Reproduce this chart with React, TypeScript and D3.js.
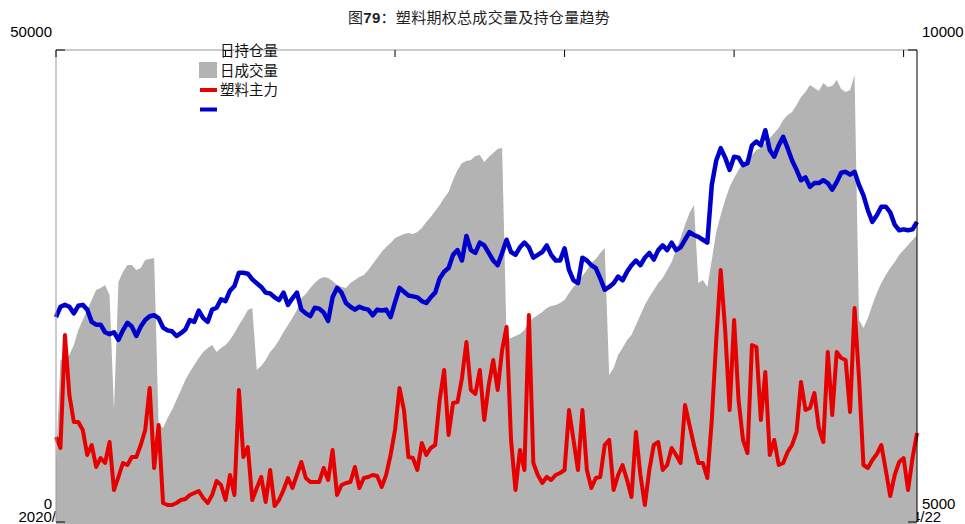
import React, { useRef, useEffect } from "react";
import * as d3 from "d3";

const titleParts = [
  { text: "图", bold: false },
  { text: "79", bold: true },
  { text: "：塑料期权总成交量及持仓量趋势", bold: false },
];
const legendLabels = ["日持仓量", "日成交量", "塑料主力"];

// trading-day index of each date tick and its label
const tickIdx = [0, 38, 76, 114, 152, 190];
const tickLabels = ["2020/07/06", "2020/08/26", "2020/10/27", "2020/12/28", "2021/03/01", "2021/04/22"];
const leftTicks = [0, 50000];
const rightTicks = [5000, 10000];

// 日持仓量 (left axis)
const openInterest = [
  6360, 17160, 17370, 17690, 18750, 20340, 21400, 22460, 23520, 24580,
  24790, 25110, 24050, 11860, 25420, 26480, 27220, 27220, 26690, 26900,
  27750, 27860, 27970, 10280, 9960, 11020, 11860, 12920, 13980, 15040,
  15890, 16630, 17370, 18010, 18430, 18750, 18010, 18430, 18750, 19280,
  20020, 20870, 21610, 22460, 22670, 16100, 16530, 17160, 18010, 18540,
  19280, 20130, 20870, 21610, 22460, 23730, 24150, 24790, 25320, 25740,
  25950, 25850, 25530, 25110, 24890, 24790, 25320, 25630, 25950, 26160,
  26690, 27330, 27970, 28600, 29130, 29550, 30080, 30300, 30510, 30610,
  30510, 30720, 31140, 31780, 32310, 32940, 33580, 34320, 34960, 36230,
  37290, 38030, 38240, 38350, 38770, 38880, 38130, 38660, 39090, 39510,
  39620, 19280, 19490, 19700, 19910, 20340, 21190, 21610, 21930, 22250,
  22670, 22880, 22990, 23200, 23520, 24260, 24890, 25420, 26060, 26690,
  27440, 27860, 28500, 29030, 15570, 16310, 17690, 18430, 19280, 19810,
  20870, 21930, 22990, 23830, 24580, 25320, 25850, 26690, 27540, 28810,
  30080, 31460, 32730, 33580, 25320, 25630, 24890, 27750, 30720, 32520,
  34110, 35490, 36440, 37290, 38030, 38560, 38880, 39410, 39620, 40150,
  40680, 41210, 41740, 42580, 43110, 43430, 44170, 45020, 45550, 46290,
  45970, 45660, 46500, 46080, 46190, 46820, 45870, 45550, 45760, 47350,
  21400, 20550, 21610, 22990, 24260, 25320, 26160, 26910, 27540, 28280,
  28810, 29340, 29870, 30400,
];

// 日成交量 (left axis)
const volume = [
  9000, 7840, 19810, 13450, 10590, 10590, 9750, 7100, 8160, 5830,
  6780, 6250, 8470, 3390, 4770, 6250, 6040, 6890, 6890, 8160,
  9750, 14190, 5720, 10280, 2010, 1800, 1800, 2010, 2330, 2440,
  2860, 3070, 3280, 2540, 2010, 2860, 4340, 3920, 2330, 4980,
  2860, 13980, 6890, 7940, 2330, 3600, 4770, 2120, 5510, 1690,
  2330, 3390, 4660, 3600, 4980, 6360, 4660, 4240, 4240, 4240,
  5720, 4450, 7630, 2860, 3920, 4130, 4240, 5830, 3600, 4660,
  4770, 4980, 4870, 3710, 4980, 7100, 9750, 14190, 11860, 6890,
  6780, 5510, 8370, 7100, 7840, 8160, 12920, 16100, 9220, 12610,
  12710, 15250, 19070, 13980, 13560, 16100, 10800, 14510, 17160, 13980,
  18220, 20660, 8690, 3390, 7630, 5510, 21930, 6250, 4980, 4130,
  4770, 4450, 4980, 5190, 5510, 11860, 8690, 5510, 11860, 5510,
  3600, 4660, 4770, 8160, 8690, 3390, 4980, 6040, 4450, 2650,
  9530, 4980, 1800, 5510, 8160, 8470, 5510, 6040, 7840, 7100,
  6250, 12390, 10280, 8160, 6250, 6250, 4660, 10800, 19280, 26690,
  20340, 11860, 21400, 12920, 8690, 7310, 18750, 18540, 10800, 15890,
  7100, 8690, 6040, 6250, 7420, 8160, 9530, 14830, 11860, 12080,
  13660, 9960, 8470, 18010, 11330, 18010, 17370, 17160, 11650, 22670,
  15250, 6040, 5720, 6570, 7200, 8160, 5510, 2750, 4980, 6360,
  6780, 3390, 6780, 9430,
];

// 塑料主力 close (right axis)
const price = [
  7170, 7280, 7300, 7280, 7210, 7290, 7300, 7250, 7120, 7090,
  7090, 7010, 6990, 7010, 6930, 7030, 7110, 7070, 6970, 7070,
  7140, 7180, 7190, 7160, 7060, 7030, 7020, 6970, 7000, 7040,
  7140, 7120, 7240, 7160, 7120, 7250, 7270, 7360, 7340, 7450,
  7500, 7640, 7640, 7630, 7570, 7530, 7490, 7430, 7420, 7380,
  7350, 7430, 7300, 7370, 7430, 7250, 7210, 7180, 7270, 7260,
  7220, 7130, 7380, 7480, 7430, 7320, 7280, 7250, 7280, 7260,
  7250, 7190, 7250, 7240, 7250, 7170, 7330, 7480, 7440, 7400,
  7390, 7380, 7340, 7320, 7380, 7430, 7580, 7650, 7690, 7830,
  7880, 7770, 8030, 7880, 7850, 7960, 7930, 7850, 7770, 7720,
  7850, 7990, 7860, 7830, 7910, 7960, 7910, 7800, 7830, 7860,
  7930, 7830, 7770, 7770, 7900, 7670, 7560, 7530, 7800, 7770,
  7720, 7690, 7580, 7460, 7490, 7530, 7600, 7560, 7650, 7720,
  7770, 7720, 7800, 7850, 7780, 7880, 7930, 7880, 7960, 7880,
  7910, 7990, 8070, 8040, 8020, 7990, 7960, 8570, 8830, 8960,
  8860, 8730, 8870, 8860, 8780, 8800, 8990, 9030, 8990, 9150,
  8940, 8870, 8990, 9080, 8960, 8830, 8730, 8620, 8650, 8550,
  8590, 8590, 8620, 8590, 8520, 8600, 8700, 8710, 8680, 8710,
  8570, 8460, 8300, 8180, 8250, 8340, 8340, 8280, 8150, 8090,
  8100, 8090, 8100, 8180,
];

const W = 965;
const H = 524;
const tickFont = "'Liberation Sans', Arial, sans-serif";
const cjkFont = "'Noto Sans CJK SC', 'Noto Sans', sans-serif";

export default function App() {
  const svgRef = useRef<SVGSVGElement>(null);

  useEffect(() => {
    if (!svgRef.current) return;
    const svg = d3.select(svgRef.current);
    svg.selectAll("*").remove();

    const left = 56, right = 917, top = 50, bottom = 522;

    const x = d3.scaleLinear().domain([0, price.length - 1]).range([left, right]);
    const yL = d3.scaleLinear().domain([0, 50000]).range([bottom, top]);
    const yR = d3.scaleLinear().domain([5000, 10000]).range([bottom, top]);

    // date labels sit below the plot; the area is painted over them
    svg
      .selectAll(".xlab")
      .data(tickIdx)
      .join("text")
      .attr("class", "xlab")
      .attr("x", (d) => x(d))
      .attr("y", 517)
      .attr("dy", "0.35em")
      .attr("text-anchor", "middle")
      .style("font-family", tickFont)
      .style("font-size", "15px")
      .text((d, i) => tickLabels[i]);

    // left tick labels (drawn a bit above their ticks)
    svg
      .selectAll(".ylab")
      .data(leftTicks)
      .join("text")
      .attr("class", "ylab")
      .attr("x", 52)
      .attr("y", (d) => yL(d) - 18)
      .attr("dy", "0.35em")
      .attr("text-anchor", "end")
      .style("font-family", tickFont)
      .style("font-size", "15px")
      .text((d) => String(d));

    svg
      .selectAll(".rlab")
      .data(rightTicks)
      .join("text")
      .attr("class", "rlab")
      .attr("x", 922)
      .attr("y", (d) => yR(d) - 18)
      .attr("dy", "0.35em")
      .attr("text-anchor", "start")
      .style("font-family", tickFont)
      .style("font-size", "15px")
      .text((d) => String(d));

    // open interest area
    const area = d3
      .area<number>()
      .x((d, i) => x(i))
      .y0(H + 2)
      .y1((d) => yL(d));
    svg.append("path").datum(openInterest).attr("d", area).attr("fill", "#b3b3b3");

    // volume line
    const volLine = d3
      .line<number>()
      .x((d, i) => x(i))
      .y((d) => yL(d));
    svg
      .append("path")
      .datum(volume)
      .attr("d", volLine)
      .attr("fill", "none")
      .attr("stroke", "#e60000")
      .attr("stroke-width", 4)
      .attr("stroke-linejoin", "round");

    // price line
    const priceLine = d3
      .line<number>()
      .x((d, i) => x(i))
      .y((d) => yR(d));
    svg
      .append("path")
      .datum(price)
      .attr("d", priceLine)
      .attr("fill", "none")
      .attr("stroke", "#0000cd")
      .attr("stroke-width", 4.5)
      .attr("stroke-linejoin", "round");

    // frame: gray top / left, black right
    svg.append("line").attr("x1", left).attr("x2", right).attr("y1", top).attr("y2", top)
      .attr("stroke", "#999").attr("stroke-width", 1);
    svg.append("line").attr("x1", left).attr("x2", left).attr("y1", top).attr("y2", bottom)
      .attr("stroke", "#999").attr("stroke-width", 1);
    svg.append("line").attr("x1", right).attr("x2", right).attr("y1", top).attr("y2", bottom)
      .attr("stroke", "#000").attr("stroke-width", 1);

    // top date ticks
    svg
      .selectAll(".xtick")
      .data(tickIdx)
      .join("line")
      .attr("class", "xtick")
      .attr("x1", (d) => x(d))
      .attr("x2", (d) => x(d))
      .attr("y1", top)
      .attr("y2", top + 7)
      .attr("stroke", "#000");

    // y ticks pointing inwards
    svg
      .selectAll(".ltick")
      .data(leftTicks)
      .join("line")
      .attr("class", "ltick")
      .attr("x1", left)
      .attr("x2", left + 9)
      .attr("y1", (d) => yL(d))
      .attr("y2", (d) => yL(d))
      .attr("stroke", "#000");
    svg
      .selectAll(".rtick")
      .data(rightTicks)
      .join("line")
      .attr("class", "rtick")
      .attr("x1", right - 9)
      .attr("x2", right)
      .attr("y1", (d) => yR(d))
      .attr("y2", (d) => yR(d))
      .attr("stroke", "#000");

    // legend (labels sit one row above their swatches, as in the source)
    const lg = svg.append("g");
    lg.append("rect").attr("x", 199).attr("y", 62).attr("width", 18).attr("height", 16).attr("fill", "#b3b3b3");
    lg.append("line").attr("x1", 200).attr("x2", 217).attr("y1", 90).attr("y2", 90)
      .attr("stroke", "#e60000").attr("stroke-width", 4);
    lg.append("line").attr("x1", 200).attr("x2", 217).attr("y1", 109.5).attr("y2", 109.5)
      .attr("stroke", "#0000cd").attr("stroke-width", 4);
    lg.selectAll("text")
      .data(legendLabels)
      .join("text")
      .attr("x", 220)
      .attr("y", (d, i) => 51 + i * 19.5)
      .attr("dy", "0.35em")
      .style("font-family", cjkFont)
      .style("font-size", "14.5px")
      .style("fill", "#111")
      .text((d) => d);

    // title, "79" in bold
    const t = svg
      .append("text")
      .attr("x", 479)
      .attr("y", 18)
      .attr("dy", "0.35em")
      .attr("text-anchor", "middle")
      .style("font-family", cjkFont)
      .style("font-size", "15px")
      .style("letter-spacing", "0.3px")
      .style("fill", "#222");
    t.selectAll("tspan")
      .data(titleParts)
      .join("tspan")
      .style("font-weight", (d) => (d.bold ? "bold" : "normal"))
      .style("font-family", (d) => (d.bold ? tickFont : cjkFont))
      .text((d) => d.text);
  }, []);

  return (
    <div style={{ position: "absolute", left: 0, top: 0 }}>
      <svg ref={svgRef} width={W} height={H} style={{ display: "block", background: "#fff" }} />
    </div>
  );
}
